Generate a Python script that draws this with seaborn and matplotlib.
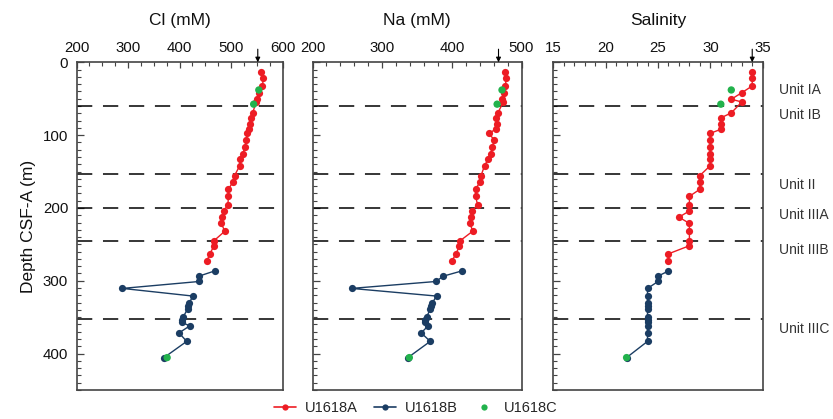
import matplotlib
matplotlib.use("Agg")
import matplotlib.pyplot as plt
from matplotlib.lines import Line2D
from matplotlib.ticker import MultipleLocator
import pandas as pd
import seaborn as sns

# Pore-water profiles, Site U1618 (depth in m CSF-A)
holes = ["U1618A", "U1618B", "U1618C"]

depth_a = [13.3, 21.2, 32.5, 41.8, 50.7, 54.5, 69.5, 76.3, 84.8, 92.0, 97.5,
           106.8, 116.3, 125.6, 133.2, 141.8, 155.5, 165.0, 174.4, 184.0,
           195.5, 204.1, 212.7, 221.2, 231.9, 245.0, 251.9, 263.0, 272.9]
cl_a = [558, 563, 561, 554, 550, 549, 542, 539, 537, 534, 531, 530, 527, 523,
        518, 517, 507, 503, 495, 495, 494, 486, 483, 481, 488, 467, 467, 459, 453]
na_a = [477, 478, 477, 475, 472, 474, 466, 464, 465, 463, 453, 461, 458, 456,
        452, 447, 442, 440, 434, 434, 437, 429, 428, 426, 430, 412, 411, 406, 400]
sal_a = [34, 34, 34, 33, 32, 33, 32, 31, 31, 31, 30, 30, 30, 30, 30, 30, 29,
         29, 29, 28, 28, 28, 27, 28, 28, 28, 28, 26, 26]

depth_b = [286.6, 293.6, 301.0, 310.5, 321.0, 330.4, 334.9, 338.6, 349.7,
           354.1, 357.1, 361.9, 371.6, 383.2, 405.5]
cl_b = [468, 438, 438, 289, 426, 419, 417, 416, 407, 404, 404, 420, 399, 414, 370]
na_b = [414, 388, 377, 256, 378, 372, 370, 369, 364, 362, 361, 366, 356, 369, 337]
sal_b = [26, 25, 25, 24, 24, 24, 24, 24, 24, 24, 24, 24, 24, 24, 22]

depth_c = [38.0, 57.5, 405.5]
cl_c = [554, 544, 376]
na_c = [472, 465, 339]
sal_c = [32, 31, 22]

# Seawater reference values (arrows on the top axis)
seawater = {"cl": 552, "na": 467, "sal": 34}

# Lithostratigraphic unit boundaries and labels
unit_bounds = [60, 154, 200, 246, 353]
unit_names = ["Unit IA", "Unit IB", "Unit II", "Unit IIIA", "Unit IIIB", "Unit IIIC"]
unit_label_depth = [38, 73, 168, 210, 258, 366]

colors = {"U1618A": "#ED1C24", "U1618B": "#1B3D63", "U1618C": "#22B24C"}

frames = []
for hole, d, cl, na, sal in [("U1618A", depth_a, cl_a, na_a, sal_a),
                             ("U1618B", depth_b, cl_b, na_b, sal_b),
                             ("U1618C", depth_c, cl_c, na_c, sal_c)]:
    frames.append(pd.DataFrame({"hole": hole, "depth": d, "cl": cl, "na": na, "sal": sal}))
df = pd.concat(frames, ignore_index=True)
df_lines = df[df["hole"] != "U1618C"]
df_c = df[df["hole"] == "U1618C"]

sns.set_style("ticks")
plt.rcParams["font.family"] = ["Liberation Sans", "DejaVu Sans"]

fig = plt.figure(figsize=(8.33, 4.19), dpi=100)
W, H = 833.0, 419.0
bottom_px, top_px = 390.0, 62.3
lefts = [(76.5, 282.5), (312.5, 521.5), (553.3, 762.7)]

panels = [
    ("cl", "Cl (mM)", (200, 600), 100, 25),
    ("na", "Na (mM)", (200, 500), 100, 20),
    ("sal", "Salinity", (15, 35), 5, 1),
]

spine_col = "#444444"
axes = []
for i, ((l, r), (col, title, xlim, major, minor)) in enumerate(zip(lefts, panels)):
    ax = fig.add_axes([l / W, 1 - bottom_px / H, (r - l) / W, (bottom_px - top_px) / H])
    axes.append(ax)

    for d in unit_bounds:
        ax.axhline(d, color="black", lw=1.1, dashes=(10, 7), zorder=1)

    sns.lineplot(data=df_lines, x=col, y="depth", hue="hole",
                 palette={h: colors[h] for h in holes[:2]},
                 sort=False, estimator=None, marker="o", markersize=5.2,
                 markeredgewidth=0, linewidth=1.0, legend=False, ax=ax, zorder=2)
    sns.scatterplot(data=df_c, x=col, y="depth", color=colors["U1618C"], s=28,
                    edgecolor="none", linewidth=0, legend=False, ax=ax, zorder=3)

    ax.set_xlim(*xlim)
    ax.set_ylim(450, 0)
    ax.xaxis.tick_top()
    ax.xaxis.set_major_locator(MultipleLocator(major))
    ax.xaxis.set_minor_locator(MultipleLocator(minor))
    ax.yaxis.set_major_locator(MultipleLocator(100))
    ax.yaxis.set_minor_locator(MultipleLocator(10))
    ax.tick_params(axis="both", which="both", direction="in", color=spine_col,
                   labelsize=10.8, labelcolor="#111111")
    ax.tick_params(axis="x", which="major", length=4, pad=5, width=0.9)
    ax.tick_params(axis="x", which="minor", length=3, width=0.8)
    ax.tick_params(axis="y", which="major", length=5, pad=6, width=0.9)
    ax.tick_params(axis="y", which="minor", length=3, width=0.8)
    ax.set_xlabel("")
    ax.set_ylabel("")
    if i > 0:
        ax.tick_params(axis="y", labelleft=False)
    for s in ax.spines.values():
        s.set_color(spine_col)
        s.set_linewidth(1.2)

    ax.annotate("", xy=(seawater[col], 1.0), xycoords=("data", "axes fraction"),
                xytext=(seawater[col], 1.04), textcoords=("data", "axes fraction"),
                arrowprops=dict(arrowstyle="-|>", color="black", lw=0.8,
                                mutation_scale=7, shrinkA=0, shrinkB=0))

    fig.text(((l + r) / 2) / W, 1 - 20 / H, title, ha="center", va="center",
             fontsize=12.5, color="#111111")

axes[0].set_ylabel("Depth CSF-A (m)", fontsize=12.5, color="#111111", labelpad=5)

for name, d in zip(unit_names, unit_label_depth):
    axes[2].text(1.08, d, name, transform=axes[2].get_yaxis_transform(),
                 ha="left", va="center", fontsize=10, color="#333333")

handles = [
    Line2D([], [], color=colors["U1618A"], marker="o", markersize=4.5, markeredgewidth=0, lw=1.2),
    Line2D([], [], color=colors["U1618B"], marker="o", markersize=4.5, markeredgewidth=0, lw=1.2),
    Line2D([], [], color=colors["U1618C"], marker="o", markersize=4.5, markeredgewidth=0, lw=0),
]
fig.legend(handles, holes, loc="center", bbox_to_anchor=(416 / W, 1 - 408 / H),
           ncol=3, frameon=False, fontsize=10.5, handlelength=1.5,
           handletextpad=0.6, columnspacing=1.1, borderpad=0.2)

fig.savefig("out.png", dpi=100)
